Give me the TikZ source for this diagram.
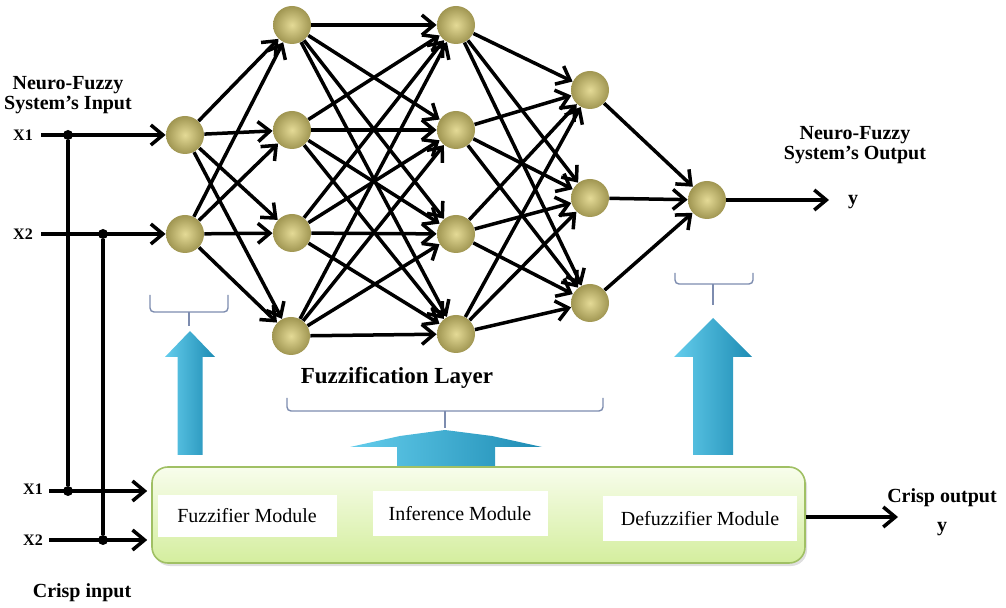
\documentclass[tikz,border=0pt]{standalone}
\usepackage{fontspec}
\setmainfont{Liberation Serif}
\usetikzlibrary{arrows.meta,shadows}

\definecolor{beadlight}{RGB}{228,218,150}
\definecolor{beadedge}{RGB}{160,150,82}
\definecolor{cyanlight}{RGB}{100,205,236}
\definecolor{cyandark}{RGB}{30,140,180}
\definecolor{bracegray}{RGB}{125,140,175}
\definecolor{boxedge}{RGB}{160,192,100}
\definecolor{boxtop}{RGB}{248,253,236}
\definecolor{boxbottom}{RGB}{212,238,158}

\tikzset{
  neuron/.style={circle, inner color=beadlight, outer color=beadedge, minimum size=19pt, inner sep=0pt},
  wire/.style={line width=1.75pt, -{Straight Barb[length=6pt,width=10pt]}},
  junction/.style={circle, fill=black, minimum size=5pt, inner sep=0pt},
  lbl/.style={font=\bfseries\fontsize{10}{10}\selectfont, align=center, inner sep=0pt},
  xlbl/.style={font=\bfseries\fontsize{8}{8}\selectfont, inner sep=1pt},
  modtxt/.style={fill=white, minimum height=21pt, font=\fontsize{10}{12}\selectfont},
  bracket/.style={draw=bracegray, line width=0.7pt, rounded corners=2pt},
  bluearrow/.style={left color=cyanlight, right color=cyandark}
}

\begin{document}
\begin{tikzpicture}[x=0.5pt, y=-0.5pt]
    \useasboundingbox (0,0) rectangle (1006,608);

    % Network neurons, layer by layer
    \node[neuron] (in1) at (185,135) {};
    \node[neuron] (in2) at (185,234) {};
    \node[neuron] (h1) at (292,25) {};
    \node[neuron] (h2) at (292,130) {};
    \node[neuron] (h3) at (292,233) {};
    \node[neuron] (h4) at (291,336) {};
    \node[neuron] (r1) at (456,25) {};
    \node[neuron] (r2) at (456,130) {};
    \node[neuron] (r3) at (456,234) {};
    \node[neuron] (r4) at (456,334) {};
    \node[neuron] (o1) at (590,90) {};
    \node[neuron] (o2) at (590,198) {};
    \node[neuron] (o3) at (590,303) {};
    \node[neuron] (out) at (707,200) {};

    % Fully connected edges
    \foreach \a in {1,2} \foreach \b in {1,...,4} \draw[wire] (in\a) -- (h\b);
    \foreach \a in {1,...,4} \foreach \b in {1,...,4} \draw[wire] (h\a) -- (r\b);
    \foreach \a in {1,...,4} \foreach \b in {1,2,3} \draw[wire] (r\a) -- (o\b);
    \foreach \a in {1,2,3} \draw[wire] (o\a) -- (out);

    % System input and output
    \node[lbl] (sysin) at (68,95) {Neuro-Fuzzy\\System's Input};
    \node[xlbl] (x1a) at (23,135) {X1};
    \node[xlbl] (x2a) at (23,234) {X2};
    \node[junction] (j1) at (68,135) {};
    \node[junction] (j2) at (103,234) {};
    \draw[wire, shorten <=3pt] (x1a.east) -- (in1);
    \draw[wire, shorten <=3pt] (x2a.east) -- (in2);

    \node[lbl] (sysout) at (855,145) {Neuro-Fuzzy\\System's Output};
    \coordinate (yend) at (829,200);
    \node[lbl] (ylbl) at (853,202) {y};
    \draw[wire] (out) -- (yend);

    % Brackets over the layers
    \draw[bracket] (150,295) -- (150,312) -- (228,312) -- (228,295);
    \draw[bracket] (189,312) -- (189,326);
    \draw[bracket] (287,398) -- (287,411) -- (603,411) -- (603,398);
    \draw[bracket] (445,411) -- (445,428);
    \draw[bracket] (675,273) -- (675,284) -- (753,284) -- (753,273);
    \draw[bracket] (713,284) -- (713,305);
    \node[lbl, font=\bfseries\fontsize{11.5}{12}\selectfont] (fuzlayer) at (397,378) {Fuzzification Layer};

    % Blue arrows
    \shade[bluearrow] (177.5,455) -- (177.5,357) -- (165,357) -- (190,331) -- (215,357) -- (202.5,357) -- (202.5,455) -- cycle;
    \shade[bluearrow] (397,466) -- (397,447) -- (350,447) -- (400,436) -- (445,430) -- (492,436) -- (542,447) -- (495,447) -- (495,466) -- cycle;
    \shade[bluearrow] (693,455) -- (693,357) -- (674,357) -- (713,318) -- (752,357) -- (733,357) -- (733,455) -- cycle;

    % Crisp module box
    \node[draw=boxedge, line width=0.8pt, rounded corners=8pt, top color=boxtop, bottom color=boxbottom,
          drop shadow={opacity=0.25, shadow xshift=1pt, shadow yshift=-1.5pt},
          minimum width=326.5pt, minimum height=48pt] (box) at (478.5,515) {};
    \node[modtxt, minimum width=89.5pt] (fuzmod) at (247,516) {Fuzzifier Module};
    \node[modtxt, minimum width=87.5pt, minimum height=22.5pt] (infmod) at (460,514) {Inference Module};
    \node[modtxt, minimum width=97pt, minimum height=22.5pt] (defmod) at (700,519) {Defuzzifier Module};

    % Crisp input and output
    \node[xlbl] (x1b) at (33,489) {X1};
    \node[xlbl] (x2b) at (33,540) {X2};
    \node[junction] (j3) at (68,491) {};
    \node[junction] (j4) at (103,540) {};
    \draw[line width=1.75pt] (j1) -- (j3);
    \draw[line width=1.75pt] (j2) -- (j4);
    \draw[wire, shorten <=2pt, shorten >=2pt] (x1b.east |- j3) -- (box.west |- j3);
    \draw[wire, shorten <=2pt, shorten >=2pt] (x2b.east |- j4) -- (box.west |- j4);
    \node[lbl] (crispin) at (82,593) {Crisp input};

    \coordinate (crispend) at (898,517);
    \draw[wire] (box.east |- crispend) -- (crispend);
    \node[lbl, font=\bfseries\fontsize{10}{14.5}\selectfont] (crispout) at (942,512) {Crisp output\\y};

\end{tikzpicture}
\end{document}
